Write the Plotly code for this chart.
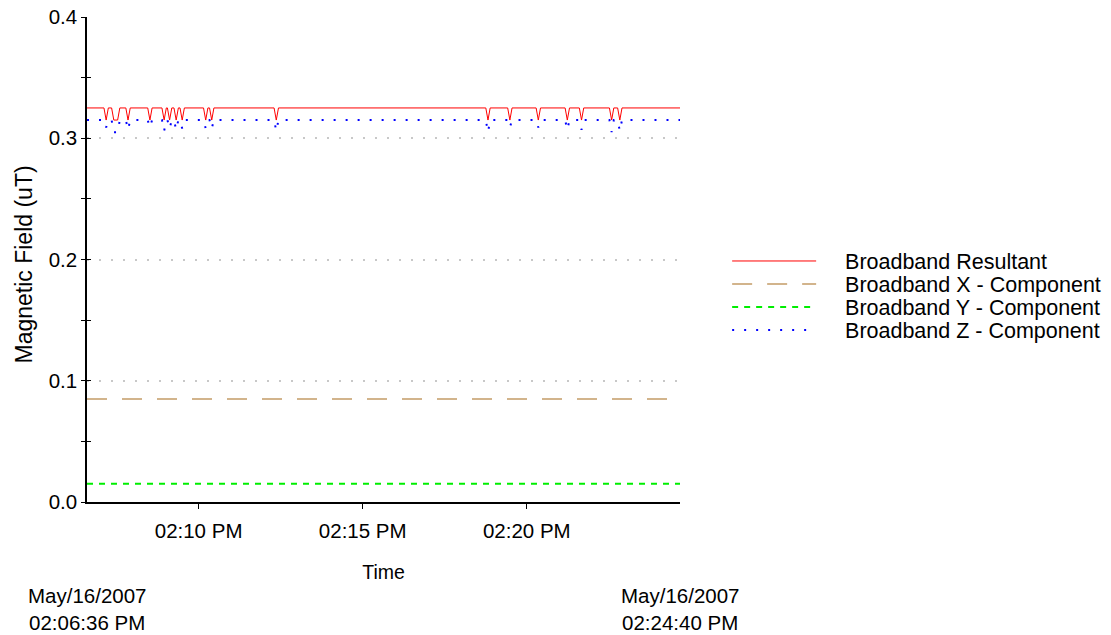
import pandas as pd
import plotly.graph_objects as go

START = "2007-05-16 14:06:36"
END = "2007-05-16 14:24:40"

# seconds after START
res_t = [0, 31, 35, 39, 45, 49, 56, 60, 71, 75, 79, 111, 115, 119,
         137, 141, 145, 147, 151, 155, 159, 163, 167, 170, 174, 178,
         213, 217, 221, 224, 228, 232, 342, 346, 350, 729, 733, 737,
         769, 773, 777, 821, 825, 829, 874, 878, 882, 900, 904, 908,
         955, 959, 963, 970, 974, 978, 1084]
res_v = [0.325, 0.325, 0.315, 0.325, 0.325, 0.315, 0.315, 0.325, 0.325, 0.315, 0.325, 0.325, 0.315, 0.325,
         0.325, 0.315, 0.325, 0.325, 0.315, 0.325, 0.325, 0.315, 0.325, 0.325, 0.315, 0.325,
         0.325, 0.315, 0.325, 0.325, 0.315, 0.325, 0.325, 0.315, 0.325, 0.325, 0.315, 0.325,
         0.325, 0.315, 0.325, 0.325, 0.315, 0.325, 0.325, 0.315, 0.325, 0.325, 0.315, 0.325,
         0.325, 0.315, 0.325, 0.325, 0.315, 0.325, 0.325]

z_t = res_t
z_v = [0.315, 0.315, 0.309, 0.315, 0.315, 0.305, 0.305, 0.315, 0.315, 0.307, 0.315, 0.315, 0.309, 0.315,
       0.315, 0.306, 0.315, 0.315, 0.308, 0.315, 0.315, 0.307, 0.315, 0.315, 0.308, 0.315,
       0.315, 0.308, 0.315, 0.315, 0.308, 0.315, 0.315, 0.306, 0.315, 0.315, 0.305, 0.315,
       0.315, 0.309, 0.315, 0.315, 0.309, 0.315, 0.315, 0.307, 0.315, 0.315, 0.307, 0.315,
       0.315, 0.305, 0.315, 0.315, 0.306, 0.315, 0.315]

x_t = [0, 1084]
x_v = [0.085, 0.085]
y_t = [0, 1084]
y_v = [0.015, 0.015]

y_ticks = [0.0, 0.1, 0.2, 0.3, 0.4]
x_ticks = ["2007-05-16 14:10:00", "2007-05-16 14:15:00", "2007-05-16 14:20:00"]
x_ticktext = ["02:10 PM", "02:15 PM", "02:20 PM"]
names = ["Broadband Resultant", "Broadband X - Component",
         "Broadband Y - Component", "Broadband Z - Component"]
start_label = ["May/16/2007", "02:06:36 PM"]
end_label = ["May/16/2007", "02:24:40 PM"]
y_title = "Magnetic Field (uT)"


def to_time(offsets):
    return pd.to_datetime(START) + pd.to_timedelta(offsets, unit="s")


FONT = "Liberation Sans, Arial, sans-serif"
FS = 20.5
PAD = "\u00a0" * 4

fig = go.Figure()
fig.add_trace(go.Scatter(x=to_time(res_t), y=res_v, mode="lines", name=PAD + names[0],
                         line=dict(color="#ff0000", width=1), legend="legend"))
fig.add_trace(go.Scatter(x=to_time(x_t), y=x_v, mode="lines", name=PAD + names[1],
                         line=dict(color="#d2b48c", width=2, dash="20px,15px"), legend="legend2"))
fig.add_trace(go.Scatter(x=to_time(y_t), y=y_v, mode="lines", name=PAD + names[2],
                         line=dict(color="#00ee00", width=2, dash="6px,6px"), legend="legend3"))
fig.add_trace(go.Scatter(x=to_time(z_t), y=z_v, mode="lines", name=PAD + names[3],
                         line=dict(color="#0000ff", width=2, dash="2px,10px"), legend="legend4"))
# empty trace so the overlay axes (inner halves of the crossing ticks) exist
fig.add_trace(go.Scatter(x=[], y=[], xaxis="x2", yaxis="y2", showlegend=False, hoverinfo="skip"))

leg_common = dict(font=dict(family=FONT, size=21.5, color="black"), bgcolor="rgba(0,0,0,0)",
                  borderwidth=0, xanchor="left", yanchor="middle", itemwidth=84, x=1.0795)
leg_y = [0.4969, 0.4495, 0.4021, 0.3546]

ann = []
for lab, t in ((start_label, START), (end_label, END)):
    for i, shift in enumerate((-93, -120)):
        ann.append(dict(x=t, y=0, xref="x", yref="paper", yanchor="middle", xanchor="center",
                        yshift=shift, showarrow=False, text=lab[i], borderpad=0,
                        font=dict(family=FONT, size=FS, color="black")))
ann.append(dict(x=0, y=0.5, xref="paper", yref="paper", xanchor="center", yanchor="middle",
                xshift=-64, yshift=-5, textangle=-90, showarrow=False, text=y_title,
                font=dict(family=FONT, size=23, color="black")))

fig.update_layout(
    width=1111, height=635,
    margin=dict(l=87, r=431, t=17, b=133, autoexpand=False),
    paper_bgcolor="white", plot_bgcolor="white",
    font=dict(family=FONT, size=FS, color="black"),
    showlegend=True,
    legend=dict(**leg_common, y=leg_y[0]),
    legend2=dict(**leg_common, y=leg_y[1]),
    legend3=dict(**leg_common, y=leg_y[2]),
    legend4=dict(**leg_common, y=leg_y[3]),
    xaxis=dict(range=[START, END], tickvals=x_ticks, ticktext=x_ticktext, automargin=False,
               ticks="outside", ticklen=5, tickcolor="black", tickwidth=1, ticklabelstandoff=5,
               showline=True, linecolor="black", linewidth=1.5, showgrid=False, zeroline=False,
               title=dict(text="Time", standoff=24, font=dict(size=19.5)), tickfont=dict(size=FS)),
    yaxis=dict(range=[0, 0.4], tickvals=y_ticks, tickformat=".1f", automargin=False,
               ticks="outside", ticklen=4, tickcolor="black", tickwidth=1,
               minor=dict(dtick=0.05, ticks="outside", ticklen=4, tickcolor="black", showgrid=False),
               showline=True, linecolor="black", linewidth=1.5,
               showgrid=True, gridcolor="#c8c8c8", gridwidth=2, griddash="2px,10px",
               zeroline=False, tickfont=dict(size=FS)),
    xaxis2=dict(overlaying="x", matches="x", range=[START, END], tickvals=x_ticks,
                showticklabels=False, ticks="inside", ticklen=5, tickcolor="black",
                showgrid=False, zeroline=False, showline=False, anchor="y2"),
    yaxis2=dict(overlaying="y", matches="y", range=[0, 0.4], tickvals=y_ticks,
                showticklabels=False, ticks="inside", ticklen=4, tickcolor="black",
                minor=dict(dtick=0.05, ticks="inside", ticklen=4, tickcolor="black", showgrid=False),
                showgrid=False, zeroline=False, showline=False, anchor="x2"),
    annotations=ann,
)

fig.write_html("out.html", config={"displayModeBar": False},
               post_script="document.body.style.margin='0';document.body.style.overflow='hidden';")
